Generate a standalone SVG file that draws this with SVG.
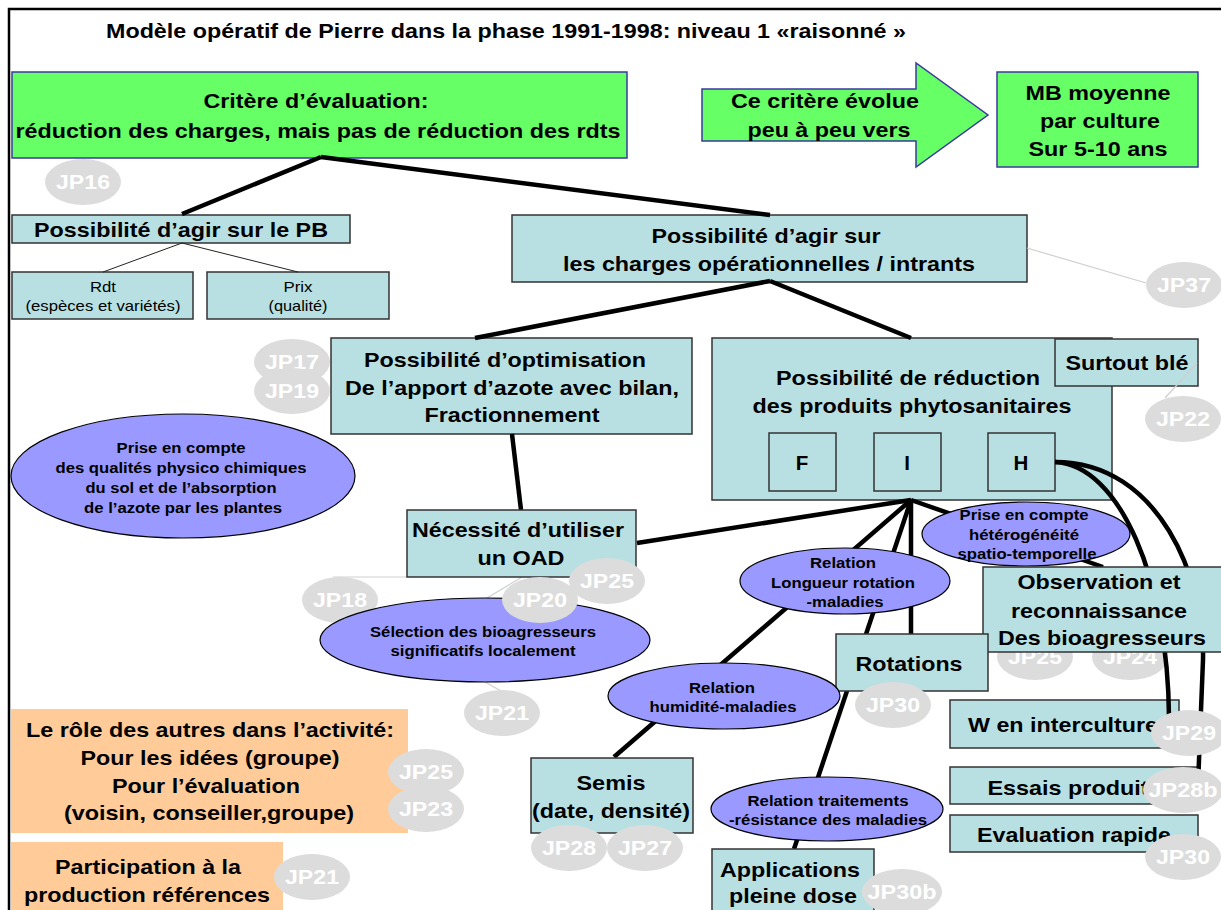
<svg xmlns="http://www.w3.org/2000/svg" width="1221" height="910" viewBox="0 0 1221 910">
<style>
.t{font-family:"Liberation Sans",Arial,sans-serif;font-weight:bold;font-size:20.5px;text-anchor:middle;fill:#000}
.s{font-size:14.5px}
.r{font-weight:normal}
.w{fill:#fff}
.box{fill:#B8E0E2;stroke:#333;stroke-width:1.5}
.grn{fill:#66FF66;stroke:#3A3AA0;stroke-width:1.5}
.ell{fill:#9999FF;stroke:#000;stroke-width:1.2}
.org{fill:#FFCC99}
.jpe{fill:#DCDCDC}
.thick{stroke:#000;stroke-width:4.5;fill:none}
.thin{stroke:#222;stroke-width:1;fill:none}
.faint{stroke:#CFCFCF;stroke-width:1.2;fill:none}
</style>
<rect width="1221" height="910" fill="#fff"/>
<path d="M9,910 V9 H1221" fill="none" stroke="#000" stroke-width="2.5"/>
<text class="t" x="506" y="38" textLength="800" lengthAdjust="spacingAndGlyphs">Modèle opératif de Pierre dans la phase 1991-1998: niveau 1 «raisonné »</text>

<g id="critere">
<rect class="grn" x="12" y="72" width="615" height="86"/>
<text class="t" x="316" y="108" textLength="225" lengthAdjust="spacingAndGlyphs">Critère d’évaluation:</text>
<text class="t" x="318" y="138" textLength="605" lengthAdjust="spacingAndGlyphs">réduction des charges, mais pas de réduction des rdts</text>
</g>
<g id="arrow">
<polygon class="grn" points="702,89 916,89 916,63 988,115 916,167 916,141 702,141"/>
<text class="t" x="825" y="108" textLength="188" lengthAdjust="spacingAndGlyphs">Ce critère évolue</text>
<text class="t" x="829" y="137" textLength="163" lengthAdjust="spacingAndGlyphs">peu à peu vers</text>
</g>
<g id="mb">
<rect class="grn" x="997" y="72" width="201" height="95"/>
<text class="t" x="1098" y="100" textLength="145" lengthAdjust="spacingAndGlyphs">MB moyenne</text>
<text class="t" x="1100" y="128" textLength="120" lengthAdjust="spacingAndGlyphs">par culture</text>
<text class="t" x="1098" y="156" textLength="139" lengthAdjust="spacingAndGlyphs">Sur 5-10 ans</text>
</g>
<g id="jp16"><ellipse class="jpe" cx="83" cy="182" rx="38" ry="23"/><text class="t w" x="83" y="189" textLength="54" lengthAdjust="spacingAndGlyphs">JP16</text></g>

<g id="pb">
<rect class="box" x="12" y="215" width="338" height="28"/>
<text class="t" x="181" y="237" textLength="294" lengthAdjust="spacingAndGlyphs">Possibilité d’agir sur le PB</text>
</g>
<g id="rdt">
<rect class="box" x="12" y="272" width="181" height="47"/>
<text class="t s r" x="103" y="292" textLength="26" lengthAdjust="spacingAndGlyphs">Rdt</text>
<text class="t s r" x="103" y="311" textLength="155" lengthAdjust="spacingAndGlyphs">(espèces et variétés)</text>
</g>
<g id="prix">
<rect class="box" x="207" y="272" width="182" height="47"/>
<text class="t s r" x="298" y="292" textLength="29" lengthAdjust="spacingAndGlyphs">Prix</text>
<text class="t s r" x="298" y="311" textLength="59" lengthAdjust="spacingAndGlyphs">(qualité)</text>
</g>

<g id="charges">
<rect class="box" x="512" y="215" width="515" height="67"/>
<text class="t" x="766" y="243" textLength="229" lengthAdjust="spacingAndGlyphs">Possibilité d’agir sur</text>
<text class="t" x="769" y="271" textLength="412" lengthAdjust="spacingAndGlyphs">les charges opérationnelles / intrants</text>
</g>
<g id="jp37"><ellipse class="jpe" cx="1184" cy="285" rx="38" ry="23"/><text class="t w" x="1184" y="292" textLength="54" lengthAdjust="spacingAndGlyphs">JP37</text></g>

<g id="optimisation">
<rect class="box" x="331" y="338" width="361" height="96"/>
<text class="t" x="505" y="367" textLength="282" lengthAdjust="spacingAndGlyphs">Possibilité d’optimisation</text>
<text class="t" x="512" y="395" textLength="334" lengthAdjust="spacingAndGlyphs">De l’apport d’azote avec bilan,</text>
<text class="t" x="512" y="422" textLength="175" lengthAdjust="spacingAndGlyphs">Fractionnement</text>
</g>
<g id="jp17"><ellipse class="jpe" cx="292" cy="362" rx="38" ry="23"/><text class="t w" x="292" y="369" textLength="54" lengthAdjust="spacingAndGlyphs">JP17</text></g>
<g id="jp19"><ellipse class="jpe" cx="292" cy="391" rx="38" ry="23"/><text class="t w" x="292" y="398" textLength="54" lengthAdjust="spacingAndGlyphs">JP19</text></g>

<g id="sol">
<ellipse class="ell" cx="183" cy="476" rx="172" ry="62"/>
<text class="t s" x="181" y="453" textLength="129" lengthAdjust="spacingAndGlyphs">Prise en compte</text>
<text class="t s" x="181" y="473" textLength="251" lengthAdjust="spacingAndGlyphs">des qualités physico chimiques</text>
<text class="t s" x="181" y="493" textLength="191" lengthAdjust="spacingAndGlyphs">du sol et de l’absorption</text>
<text class="t s" x="183" y="513" textLength="198" lengthAdjust="spacingAndGlyphs">de l’azote par les plantes</text>
</g>

<g id="reduction">
<rect class="box" x="712" y="338" width="400" height="162"/>
<text class="t" x="908" y="385" textLength="264" lengthAdjust="spacingAndGlyphs">Possibilité de réduction</text>
<text class="t" x="912" y="413" textLength="319" lengthAdjust="spacingAndGlyphs">des produits phytosanitaires</text>
</g>
<g id="f"><rect class="box" x="769" y="433" width="67" height="58"/><text class="t" x="802" y="470">F</text></g>
<g id="i"><rect class="box" x="874" y="433" width="67" height="58"/><text class="t" x="907" y="470">I</text></g>
<g id="h"><rect class="box" x="988" y="433" width="67" height="58"/><text class="t" x="1021" y="470">H</text></g>
<g id="surtout">
<rect class="box" x="1055" y="339" width="143" height="47"/>
<text class="t" x="1127" y="370" textLength="123" lengthAdjust="spacingAndGlyphs">Surtout blé</text>
</g>
<g id="jp22"><ellipse class="jpe" cx="1183" cy="419" rx="38" ry="23"/><text class="t w" x="1183" y="426" textLength="54" lengthAdjust="spacingAndGlyphs">JP22</text></g>

<g id="w"><rect class="box" x="950" y="700" width="229" height="48"/><text class="t" x="1063" y="732" textLength="190" lengthAdjust="spacingAndGlyphs">W en interculture</text></g>
<g id="essais"><rect class="box" x="950" y="767" width="248" height="37"/><text class="t" x="1068" y="795" textLength="161" lengthAdjust="spacingAndGlyphs">Essais produit</text></g>
<g id="evaluation"><rect class="box" x="950" y="815" width="248" height="37"/><text class="t" x="1074" y="842" textLength="194" lengthAdjust="spacingAndGlyphs">Evaluation rapide</text></g>
<g id="jp25b"><ellipse class="jpe" cx="1035" cy="657" rx="38" ry="23"/><text class="t w" x="1035" y="664" textLength="54" lengthAdjust="spacingAndGlyphs">JP25</text></g>
<g id="jp24"><ellipse class="jpe" cx="1130" cy="657" rx="38" ry="23"/><text class="t w" x="1130" y="664" textLength="54" lengthAdjust="spacingAndGlyphs">JP24</text></g>

<g id="connectors">
<path class="thick" d="M321,157 L182,214"/>
<path class="thick" d="M321,157 L770,215"/>
<path class="thin" d="M182,243 L103,272"/>
<path class="thin" d="M182,243 L298,272"/>
<path class="faint" d="M1027,248 L1146,283"/>
<path class="thick" d="M770,281 L475,338"/>
<path class="thick" d="M770,281 L911,338"/>
<path class="thick" d="M512,434 L521,510"/>
<path class="thick" d="M637,543 L911,500"/>
<path class="thick" d="M911,500 L614,757"/>
<path class="thick" d="M911,500 L794,849"/>
<path class="thick" d="M911,500 L911,634"/>
<path class="thick" d="M911,500 L1103,567"/>
<path class="thick" d="M1055,462 C1120,465 1168,580 1169,717"/>
<path class="thick" d="M1055,462 C1160,462 1205,580 1203,660 L1198,785"/>
<path class="faint" d="M407,577 L333,577"/>
<path class="faint" d="M522,577 L487,598"/>
<path class="faint" d="M485,682 L503,692"/>
<path class="faint" d="M1197,363 L1165,398"/>
</g>

<g id="oad">
<rect class="box" x="407" y="510" width="229" height="67"/>
<text class="t" x="518" y="537" textLength="212" lengthAdjust="spacingAndGlyphs">Nécessité d’utiliser</text>
<text class="t" x="521" y="565" textLength="87" lengthAdjust="spacingAndGlyphs">un OAD</text>
</g>
<g id="jp18"><ellipse class="jpe" cx="340" cy="600" rx="38" ry="23"/><text class="t w" x="340" y="607" textLength="54" lengthAdjust="spacingAndGlyphs">JP18</text></g>
<g id="selection">
<ellipse class="ell" cx="485" cy="640" rx="165" ry="42"/>
<text class="t s" x="483" y="637" textLength="226" lengthAdjust="spacingAndGlyphs">Sélection des bioagresseurs</text>
<text class="t s" x="483" y="656" textLength="185" lengthAdjust="spacingAndGlyphs">significatifs localement</text>
</g>
<g id="jp25a"><ellipse class="jpe" cx="607" cy="581" rx="38" ry="23"/><text class="t w" x="607" y="588" textLength="54" lengthAdjust="spacingAndGlyphs">JP25</text></g>
<g id="jp20"><ellipse class="jpe" cx="540" cy="600" rx="38" ry="23"/><text class="t w" x="540" y="607" textLength="54" lengthAdjust="spacingAndGlyphs">JP20</text></g>
<g id="jp21a"><ellipse class="jpe" cx="502" cy="713" rx="38" ry="23"/><text class="t w" x="502" y="720" textLength="54" lengthAdjust="spacingAndGlyphs">JP21</text></g>

<g id="heterogeneite">
<ellipse class="ell" cx="1026" cy="534" rx="104" ry="32"/>
<text class="t s" x="1024" y="520" textLength="129" lengthAdjust="spacingAndGlyphs">Prise en compte</text>
<text class="t s" x="1024" y="540" textLength="110" lengthAdjust="spacingAndGlyphs">hétérogénéité</text>
<text class="t s" x="1027" y="559" textLength="139" lengthAdjust="spacingAndGlyphs">spatio-temporelle</text>
</g>
<g id="longueur">
<ellipse class="ell" cx="845" cy="581" rx="105" ry="33"/>
<text class="t s" x="843" y="568" textLength="66" lengthAdjust="spacingAndGlyphs">Relation</text>
<text class="t s" x="843" y="588" textLength="144" lengthAdjust="spacingAndGlyphs">Longueur rotation</text>
<text class="t s" x="845" y="607" textLength="77" lengthAdjust="spacingAndGlyphs">-maladies</text>
</g>

<g id="observation">
<rect class="box" x="983" y="567" width="245" height="85"/>
<text class="t" x="1099" y="589" textLength="163" lengthAdjust="spacingAndGlyphs">Observation et</text>
<text class="t" x="1099" y="618" textLength="176" lengthAdjust="spacingAndGlyphs">reconnaissance</text>
<text class="t" x="1102" y="645" textLength="208" lengthAdjust="spacingAndGlyphs">Des bioagresseurs</text>
</g>
<g id="jp29"><ellipse class="jpe" cx="1189" cy="733" rx="38" ry="23"/><text class="t w" x="1189" y="740" textLength="54" lengthAdjust="spacingAndGlyphs">JP29</text></g>
<g id="jp28b"><ellipse class="jpe" cx="1183" cy="790" rx="40" ry="23"/><text class="t w" x="1183" y="797" textLength="69" lengthAdjust="spacingAndGlyphs">JP28b</text></g>
<g id="jp30c"><ellipse class="jpe" cx="1183" cy="857" rx="38" ry="23"/><text class="t w" x="1183" y="864" textLength="54" lengthAdjust="spacingAndGlyphs">JP30</text></g>

<g id="rotations"><rect class="box" x="836" y="634" width="152" height="57"/><text class="t" x="909" y="671" textLength="107" lengthAdjust="spacingAndGlyphs">Rotations</text></g>
<g id="jp30a"><ellipse class="jpe" cx="893" cy="705" rx="38" ry="23"/><text class="t w" x="893" y="712" textLength="54" lengthAdjust="spacingAndGlyphs">JP30</text></g>
<g id="humidite">
<ellipse class="ell" cx="724" cy="696" rx="116" ry="33"/>
<text class="t s" x="722" y="693" textLength="66" lengthAdjust="spacingAndGlyphs">Relation</text>
<text class="t s" x="723" y="712" textLength="147" lengthAdjust="spacingAndGlyphs">humidité-maladies</text>
</g>
<g id="semis">
<rect class="box" x="531" y="758" width="162" height="75"/>
<text class="t" x="611" y="790" textLength="69" lengthAdjust="spacingAndGlyphs">Semis</text>
<text class="t" x="611" y="818" textLength="158" lengthAdjust="spacingAndGlyphs">(date, densité)</text>
</g>
<g id="jp28"><ellipse class="jpe" cx="569" cy="848" rx="38" ry="23"/><text class="t w" x="569" y="855" textLength="54" lengthAdjust="spacingAndGlyphs">JP28</text></g>
<g id="jp27"><ellipse class="jpe" cx="645" cy="848" rx="38" ry="23"/><text class="t w" x="645" y="855" textLength="54" lengthAdjust="spacingAndGlyphs">JP27</text></g>
<g id="traitements">
<ellipse class="ell" cx="827" cy="809" rx="116" ry="32"/>
<text class="t s" x="828" y="806" textLength="161" lengthAdjust="spacingAndGlyphs">Relation traitements</text>
<text class="t s" x="828" y="825" textLength="198" lengthAdjust="spacingAndGlyphs">-résistance des maladies</text>
</g>
<g id="applications">
<rect class="box" x="712" y="849" width="162" height="70"/>
<text class="t" x="790" y="877" textLength="140" lengthAdjust="spacingAndGlyphs">Applications</text>
<text class="t" x="793" y="903" textLength="128" lengthAdjust="spacingAndGlyphs">pleine dose</text>
</g>
<g id="jp30b"><ellipse class="jpe" cx="902" cy="892" rx="40" ry="23"/><text class="t w" x="902" y="899" textLength="69" lengthAdjust="spacingAndGlyphs">JP30b</text></g>

<g id="role">
<rect class="org" x="11" y="709" width="397" height="124"/>
<text class="t" x="210" y="737" textLength="368" lengthAdjust="spacingAndGlyphs">Le rôle des autres dans l’activité:</text>
<text class="t" x="210" y="765" textLength="259" lengthAdjust="spacingAndGlyphs">Pour les idées (groupe)</text>
<text class="t" x="206" y="793" textLength="188" lengthAdjust="spacingAndGlyphs">Pour l’évaluation</text>
<text class="t" x="209" y="820" textLength="290" lengthAdjust="spacingAndGlyphs">(voisin, conseiller,groupe)</text>
</g>
<g id="jp25c"><ellipse class="jpe" cx="426" cy="772" rx="38" ry="23"/><text class="t w" x="426" y="779" textLength="54" lengthAdjust="spacingAndGlyphs">JP25</text></g>
<g id="jp23"><ellipse class="jpe" cx="426" cy="809" rx="38" ry="23"/><text class="t w" x="426" y="816" textLength="54" lengthAdjust="spacingAndGlyphs">JP23</text></g>
<g id="participation">
<rect class="org" x="11" y="842" width="272" height="70"/>
<text class="t" x="148" y="874" textLength="186" lengthAdjust="spacingAndGlyphs">Participation à la</text>
<text class="t" x="147" y="902" textLength="246" lengthAdjust="spacingAndGlyphs">production références</text>
</g>
<g id="jp21b"><ellipse class="jpe" cx="312" cy="877" rx="38" ry="23"/><text class="t w" x="312" y="884" textLength="54" lengthAdjust="spacingAndGlyphs">JP21</text></g>
</svg>
